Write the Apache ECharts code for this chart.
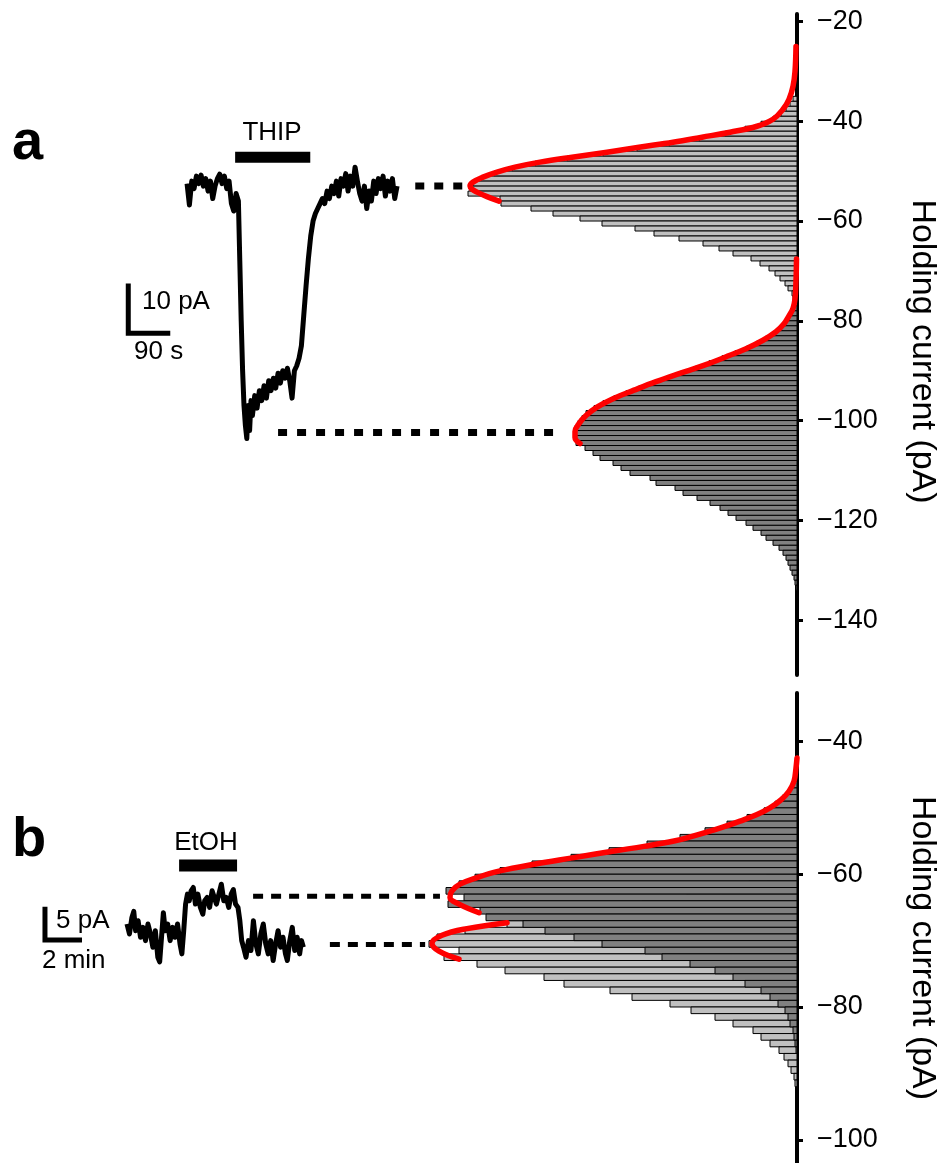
<!DOCTYPE html>
<html>
<head>
<meta charset="utf-8">
<title>Holding current histograms</title>
<script src="https://cdn.jsdelivr.net/npm/echarts@6/dist/echarts.min.js"></script>
<style>
    html, body { margin: 0; padding: 0; background: #fff; }
    #chart { width: 937px; height: 1163px; }
</style>
</head>
<body>
<div id="chart"></div>
<script>
(function () {
    'use strict';

    var FONT = '"Liberation Sans", Arial, sans-serif';
    var BIN = 1; // pA per histogram bin

    // ---------- panel a : THIP ----------
    var aTicks = [-140, -120, -100, -80, -60, -40, -20];

    // histogram counts, one per 1 pA bin, going down from the first bin centre
    var aCtrlFirstBin = -35.5;
    var aCtrlCounts = [4, 7, 11, 16, 24, 36, 52, 72, 98, 128, 160, 194, 230, 262, 285, 303, 316, 324, 327,
        329, 297, 296, 266, 244, 217, 195, 162, 143, 118, 94, 78, 64, 46, 37, 28, 22, 17, 12, 9, 5, 4, 3, 2];
    var aThipFirstBin = -77.5;
    var aThipCounts = [3, 5, 8, 12, 17, 23, 31, 40, 50, 62, 75, 88, 101, 116, 130, 144, 158, 171, 183, 194,
        203, 211, 215, 219, 222, 223, 222, 221, 212, 204, 197, 184, 176, 167, 147, 141, 122, 114, 100, 87,
        77, 69, 61, 51, 44, 36, 31, 24, 18, 14, 11, 9, 7, 5, 3, 2, 1];

    // gaussian fits as drawn: [count, current]
    var aCtrlFit = [[1, -25], [2, -30], [4, -33], [8, -35.6], [14, -37.6], [24, -39.6], [40, -41], [67, -42.2],
        [95, -43.2], [124, -44.2], [158, -45.2], [190, -46.2], [225, -47.2], [257, -48.2], [282, -49.2],
        [300, -50.2], [314, -51.2], [324, -52.2], [327, -53], [325, -53.6], [320, -54.2], [310, -55.1], [298, -56]];
    var aThipFit = [[0.5, -67.6], [1, -72], [2, -75.6], [4, -77.5], [8, -79], [13, -80.6], [21, -82.2],
        [34, -83.9], [51, -85.6], [72, -87.3], [94, -89], [118, -90.6], [141, -92.2], [163, -93.9],
        [184, -95.6], [200, -97.3], [211, -99], [218, -100.6], [222, -102.2], [222, -103.4], [217, -104.6]];

    // holding current trace
    var aTraceTime = [0, 5, 10, 15, 20, 25, 30, 35, 40, 45, 50, 55, 60, 65, 70, 75, 80, 85, 90, 95, 100, 105,
        110, 113, 116, 119, 122, 125, 128, 131, 134, 137, 140, 145, 150, 155, 160, 165, 170, 175, 180, 185,
        190, 195, 200, 205, 210, 215, 220, 225, 230, 235, 240, 245, 250, 255, 260, 265, 270, 275, 280, 285,
        290, 295, 300, 305, 310, 315, 320, 325, 330, 335, 340, 345, 350, 355, 360, 365, 370, 375, 380, 385,
        390, 395, 400, 405, 410, 415, 420, 425, 430, 435, 440, 445, 450];
    var aTraceCurrent = [-52.5, -56.8, -52, -53.5, -51, -52.5, -50.8, -53, -51.5, -54, -52, -55.5, -53, -51.5,
        -50.6, -52.5, -51, -53.5, -52, -56.5, -58, -54.5,
        -56, -68, -80, -90, -97, -101, -103.6, -97, -102, -96, -99, -95, -97.5, -94, -96, -93, -95.5, -92,
        -94, -91.5, -93.5, -90.5, -92.5, -90, -91.5, -89.5, -92, -95.5, -90, -89, -87.5, -85, -79, -73,
        -67.5, -63, -60, -58.5, -57.5, -56.5, -55.5, -56.5, -54, -55.5, -53, -54.5, -52, -55, -51.5, -53,
        -50.5, -54, -51, -53, -49.2, -52, -54.5, -56, -53, -57.5, -54, -56, -52, -54.5, -51.5, -53.5, -51,
        -55, -52, -54, -51.5, -55.5, -53];
    var aDrugSpan = [103, 264];
    var aDrugLevel = -47.2;
    var aScale = [10, 90]; // pA, s
    var aControlLink = [[489, -53], [596, -53]];
    var aDrugLink = [[195, -102.4], [799, -102.4]];

    // ---------- panel b : EtOH ----------
    var bTicks = [-100, -80, -60, -40];

    var bCtrlFirstBin = -58.5;
    var bCtrlCounts = [10, 18, 30, 48, 75, 110, 155, 205, 250, 290, 332, 360, 368, 338, 353, 320, 292, 253,
        233, 187, 165, 127, 106, 82, 64, 44, 36, 27, 18, 13, 9, 6, 3, 2];
    var bEtohFirstBin = -44.5;
    var bEtohCounts = [1, 2, 4, 8, 14, 22, 33, 50, 70, 92, 117, 150, 188, 226, 265, 297, 322, 338, 351, 333,
        349, 317, 311, 274, 252, 223, 195, 152, 135, 107, 82, 64, 52, 36, 27, 19, 12, 9, 7, 4, 3, 2, 1];

    var bEtohFit = [[0, -42.5], [1, -44], [3, -46], [8, -47.5], [16, -48.8], [27, -50], [40, -51], [57, -52],
        [72, -52.8], [87, -53.5], [105, -54.3], [123, -55], [153, -55.8], [183, -56.5], [223, -57.5],
        [263, -58.5], [297, -59.5], [320, -60.5], [337, -61.5], [345, -62.5], [347, -63.5], [338, -64.5],
        [318, -65.8]];
    var bCtrlFit = [[290, -67.3], [330, -68.2], [355, -69.2], [365, -70.4], [358, -71.6], [338, -72.8]];

    var bTraceTime = [0, 8, 16, 22, 28, 36, 44, 52, 60, 68, 76, 84, 92, 100, 106, 112, 118, 124, 132, 140,
        148, 156, 164, 172, 178, 184, 190, 196, 202, 208, 215, 222, 230, 238, 246, 252, 260, 268, 276, 282,
        290, 298, 306, 314, 322, 330, 338, 345, 352, 360, 366, 372, 378, 386, 394, 402, 410, 418, 426, 434,
        442, 450, 458, 466, 474, 482, 490, 498, 506, 514, 520, 528, 536, 544, 552, 560, 566, 572];
    var bTraceCurrent = [-67.5, -69, -66.5, -65.6, -68.5, -67, -69.5, -68, -70, -67.5, -69, -71, -68.5,
        -72.5, -73.2, -69.5, -65.8, -68.5, -67.5, -70, -68, -69.5, -67.5, -70.5, -72, -68.5, -64.5, -63,
        -64, -62.5, -62, -64.5, -63, -65, -66, -64, -63.5, -65, -62.5, -62.8, -64.5, -63, -61.5, -64,
        -63.5, -65, -63, -62.3, -64.5, -65, -67, -70, -71, -72.5, -70, -71.5, -67, -70.5, -72, -69,
        -67.5, -70.5, -72, -70, -73, -70.5, -68.5, -71, -69.5, -72, -73, -70, -68, -71.5, -69.5, -72,
        -70, -71];
    var bDrugSpan = [169, 357];
    var bDrugLevel = -58.7;
    var bScale = [5, 120]; // pA, s
    var bDrugLink = [[409, -63.3], [1015, -63.3]];
    var bControlLink = [[658, -70.6], [967, -70.6]];

    // ---------- helpers ----------
    function bins(first, counts) {
        return counts.map(function (c, i) { return [c, first - i * BIN]; });
    }

    function pairs(xs, ys) {
        return xs.map(function (x, i) { return [x, ys[i]]; });
    }

    function histBar(fill) {
        return function (params, api) {
            var y = api.value(1);
            var p0 = api.coord([0, y + BIN / 2]);
            var p1 = api.coord([api.value(0), y - BIN / 2]);
            return {
                type: 'rect',
                shape: {x: p1[0], y: p0[1], width: p0[0] - p1[0], height: p1[1] - p0[1]},
                style: {fill: fill, stroke: '#000', lineWidth: 1}
            };
        };
    }

    function histSeries(name, data, fill, xi, yi) {
        return {
            name: name, type: 'custom', xAxisIndex: xi, yAxisIndex: yi,
            encode: {x: 0, y: 1}, data: data, renderItem: histBar(fill), z: 2
        };
    }

    function lineSeries(name, data, xi, yi, style, z) {
        return {
            name: name, type: 'line', xAxisIndex: xi, yAxisIndex: yi, data: data,
            symbol: 'none', smooth: false, lineStyle: style, z: z || 3, silent: true
        };
    }

    function fitSeries(name, data, xi, yi) {
        var s = lineSeries(name, data, xi, yi, {color: '#ff0000', width: 5.5, cap: 'round', join: 'round'}, 5);
        s.smooth = 0.4;
        return s;
    }

    function scaleBar(corner, pA, sec) {
        return [[corner[0], corner[1] + pA], corner, [corner[0] + sec, corner[1]]];
    }

    function minus(v) {
        return (v < 0 ? '\u2212' : '') + Math.abs(v);
    }

    function currentAxis(gridIndex, min, max, ticks, namePad) {
        return {
            type: 'value', gridIndex: gridIndex, position: 'right', min: min, max: max,
            axisLine: {show: true, lineStyle: {color: '#000', width: 4}},
            axisTick: {show: true, inside: false, length: 6, customValues: ticks,
                lineStyle: {color: '#000', width: 3}},
            axisLabel: {customValues: ticks, margin: 20, fontSize: 27, color: '#000',
                fontFamily: FONT, formatter: minus},
            splitLine: {show: false},
            name: 'Holding current (pA)', nameLocation: 'middle', nameRotate: -90, nameGap: 108,
            nameTextStyle: {fontSize: 34, color: '#000', fontFamily: FONT, padding: namePad}
        };
    }

    function hidden(type, gridIndex, position, min, max, inverse) {
        return {type: type, gridIndex: gridIndex, position: position, min: min, max: max,
            inverse: !!inverse, show: false, splitLine: {show: false}};
    }

    function text(str, x, y, size, opts) {
        opts = opts || {};
        return {
            type: 'text', x: x, y: y, silent: true,
            style: {text: str, fill: '#000', font: (opts.bold ? 'bold ' : '') + size + 'px ' + FONT,
                textAlign: opts.align || 'left', textVerticalAlign: 'middle'}
        };
    }

    var black = {color: '#000', width: 5, join: 'round'};

    var option = {
        animation: false,
        backgroundColor: '#fff',
        grid: [
            {left: 20, right: 140, top: 14, height: 661, containLabel: false, outerBoundsMode: 'none'},
            {left: 20, right: 140, top: 693, bottom: 0, containLabel: false, outerBoundsMode: 'none'}
        ],
        xAxis: [
            hidden('value', 0, 'bottom', 0, 777, true),    // counts, panel a
            hidden('value', 0, 'top', -358, 1307),          // time (s), panel a
            hidden('value', 1, 'bottom', 0, 777, true),    // counts, panel b
            hidden('value', 1, 'top', -347, 2173)           // time (s), panel b
        ],
        yAxis: [
            currentAxis(0, -151, -18.5, aTicks, [0, 0, 0, 14]),
            currentAxis(1, -103.5, -32.7, bTicks, [0, 0, 0, 40])
        ],
        series: [
            histSeries('a control', bins(aCtrlFirstBin, aCtrlCounts), '#c0c0c0', 0, 0),
            histSeries('a THIP', bins(aThipFirstBin, aThipCounts), '#808080', 0, 0),
            fitSeries('a control fit', aCtrlFit, 0, 0),
            fitSeries('a THIP fit', aThipFit, 0, 0),
            lineSeries('a trace', pairs(aTraceTime, aTraceCurrent), 1, 0, black),
            lineSeries('THIP', [[aDrugSpan[0], aDrugLevel], [aDrugSpan[1], aDrugLevel]], 1, 0,
                {color: '#000', width: 11, cap: 'butt'}),
            lineSeries('a scale', scaleBar([-126, -82.5], aScale[0], aScale[1]), 1, 0,
                {color: '#000', width: 5, join: 'miter'}),
            lineSeries('a control link', aControlLink, 1, 0, {color: '#000', width: 7, type: [9, 10]}),
            lineSeries('a THIP link', aDrugLink, 1, 0, {color: '#000', width: 7, type: [9, 10]}),

            histSeries('b control', bins(bCtrlFirstBin, bCtrlCounts), '#c0c0c0', 2, 1),
            histSeries('b EtOH', bins(bEtohFirstBin, bEtohCounts), '#808080', 2, 1),
            fitSeries('b EtOH fit', bEtohFit, 2, 1),
            fitSeries('b control fit', bCtrlFit, 2, 1),
            lineSeries('b trace', pairs(bTraceTime, bTraceCurrent), 3, 1, black),
            lineSeries('EtOH', [[bDrugSpan[0], bDrugLevel], [bDrugSpan[1], bDrugLevel]], 3, 1,
                {color: '#000', width: 12, cap: 'butt'}),
            lineSeries('b scale', scaleBar([-266, -69.9], bScale[0], bScale[1]), 3, 1,
                {color: '#000', width: 5, join: 'miter'}),
            lineSeries('b EtOH link', bDrugLink, 3, 1, {color: '#000', width: 5, type: [10, 8]}),
            lineSeries('b control link', bControlLink, 3, 1, {color: '#000', width: 5, type: [10, 8]})
        ],
        graphic: [
            text('a', 12, 144, 56, {bold: true}),
            text('b', 12, 841, 56, {bold: true}),
            text('THIP', 272, 133, 26, {align: 'center'}),
            text('EtOH', 206, 843, 26, {align: 'center'}),
            text(aScale[0] + ' pA', 142, 302, 26),
            text(aScale[1] + ' s', 134, 352, 26),
            text(bScale[0] + ' pA', 56, 921, 26),
            text(bScale[1] / 60 + ' min', 42, 961, 26)
        ]
    };

    var chart = echarts.init(document.getElementById('chart'), null, {renderer: 'canvas'});
    chart.setOption(option);
})();
</script>
</body>
</html>
